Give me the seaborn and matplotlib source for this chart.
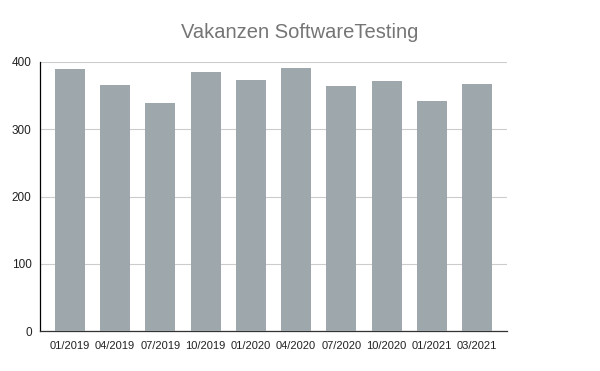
import matplotlib
matplotlib.use("Agg")
import matplotlib.pyplot as plt
import seaborn as sns
import pandas as pd

categories = ["01/2019", "04/2019", "07/2019", "10/2019", "01/2020",
              "04/2020", "07/2020", "10/2020", "01/2021", "03/2021"]
values = [389, 366, 339, 385, 373, 391, 364, 372, 342, 367]

sns.set_theme(style="white")
plt.rcParams['font.family'] = ['Liberation Sans', 'DejaVu Sans']

df = pd.DataFrame({"Monat": categories, "Vakanzen": values})

fig = plt.figure(figsize=(6, 3.71), dpi=100)
ax = fig.add_axes([40/600, 40/371, 467/600, 269/371])
sns.barplot(data=df, x="Monat", y="Vakanzen", color="#9ea8ac", saturation=1,
            width=0.66, ax=ax, zorder=3, edgecolor="none", linewidth=0)
ax.set_xlim(-0.66, 9.66)
ax.set_ylim(0, 400)
ax.set_yticks([0, 100, 200, 300, 400])
ax.yaxis.grid(True, color="#cccccc", linewidth=0.8, zorder=0)
ax.set_axisbelow(True)
for s in ["top", "right"]:
    ax.spines[s].set_visible(False)
ax.spines["left"].set_color("#000000")
ax.spines["bottom"].set_color("#333333")
ax.spines["left"].set_linewidth(0.9)
ax.spines["bottom"].set_linewidth(0.9)
ax.set_xlabel("")
ax.set_ylabel("")
ax.tick_params(axis="x", labelsize=8, colors="#222222", length=0, pad=7)
ax.tick_params(axis="y", labelsize=8.5, colors="#222222", length=0, pad=6)
fig.text(300/600, 1 - 32/371, "Vakanzen SoftwareTesting", ha="center", va="center",
         fontsize=14.5, color="#757575")
fig.savefig("out.png", dpi=100)
